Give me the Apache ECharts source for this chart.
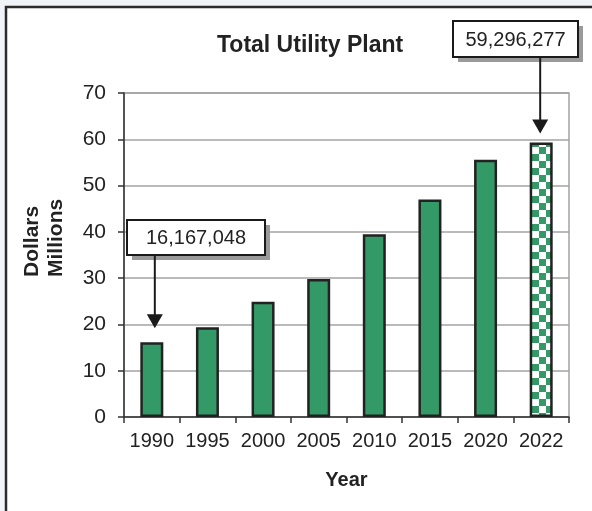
<!DOCTYPE html>
<html>
<head>
<meta charset="utf-8">
<script src="https://cdn.jsdelivr.net/npm/echarts@6/dist/echarts.min.js"></script>
<style>
    html, body { margin: 0; padding: 0; background: #f0f3f7; }
    #chart { width: 592px; height: 511px; }
</style>
</head>
<body>
<div id="chart"></div>
<script>
// values, millions of dollars
const years = ['1990', '1995', '2000', '2005', '2010', '2015', '2020', '2022']
const plantMillions = [16.17, 19.4, 24.9, 29.8, 39.5, 47.0, 55.6, 59.3]
const calloutIndex = [0, 7]
const calloutText = ['16,167,048', '59,296,277']

const FONT = '"Liberation Sans", Arial, sans-serif'
const GREEN = '#339966'

// green / white checkerboard used for the last bar
function checker(size) {
    const c = document.createElement('canvas')
    c.width = c.height = size * 2
    const ctx = c.getContext('2d')
    ctx.fillStyle = '#ffffff'
    ctx.fillRect(0, 0, size * 2, size * 2)
    ctx.fillStyle = GREEN
    ctx.fillRect(0, 0, size, size)
    ctx.fillRect(size, size, size, size)
    return c
}

const frame = {
    id: 'frame',
    type: 'rect',
    z: -100,
    silent: true,
    shape: { x: 6, y: 7, width: 660, height: 580 },
    style: { fill: '#ffffff', stroke: '#2b2b2b', lineWidth: 2.5 }
}

const chart = echarts.init(document.getElementById('chart'))

const option = {
    backgroundColor: '#f0f3f7',
    animation: false,
    textStyle: { fontFamily: FONT, color: '#222' },
    title: {
        text: 'Total Utility Plant',
        left: 212,
        top: 29,
        textStyle: { fontFamily: FONT, fontSize: 23, fontWeight: 'bold', color: '#222' }
    },
    grid: {
        left: 124,
        right: 23,
        top: 93,
        bottom: 94,
        show: true,
        borderColor: '#a3a3a3',
        borderWidth: 1.5
    },
    xAxis: {
        type: 'category',
        data: years,
        name: 'Year',
        nameLocation: 'middle',
        nameGap: 53,
        nameTextStyle: { fontFamily: FONT, fontSize: 20, fontWeight: 'bold', color: '#222' },
        axisLine: { lineStyle: { color: '#333', width: 1.5 } },
        axisTick: { show: true, length: 6, lineStyle: { color: '#333', width: 1.5 } },
        axisLabel: { interval: 0, fontFamily: FONT, fontSize: 20, color: '#222', margin: 14 }
    },
    yAxis: {
        type: 'value',
        min: 0,
        max: 70,
        interval: 10,
        name: 'Dollars\nMillions',
        nameLocation: 'middle',
        nameRotate: 90,
        nameGap: 56,
        nameTextStyle: {
            fontFamily: FONT, fontSize: 21, fontWeight: 'bold', color: '#222',
            lineHeight: 24, align: 'left', padding: [0, 0, 0, -22]
        },
        axisLine: { show: true, lineStyle: { color: '#333', width: 1.5 } },
        axisTick: { show: true, length: 6, lineStyle: { color: '#333', width: 1.5 } },
        axisLabel: { fontFamily: FONT, fontSize: 21, color: '#222', margin: 18 },
        splitLine: { lineStyle: { color: '#a3a3a3', width: 1.5 } }
    },
    series: [{
        type: 'bar',
        barWidth: 23,
        itemStyle: { color: GREEN, borderColor: '#222', borderWidth: 2.5 },
        data: plantMillions.map((v, i) => i === plantMillions.length - 1
            ? { value: v, itemStyle: { color: { image: checker(7), repeat: 'repeat' } } }
            : v)
    }],
    graphic: [frame]
}
chart.setOption(option)

// callout boxes with arrows pointing at the bar tops
const boxLayout = [
    { x: 127, y: 220, w: 138, h: 35, dx: 3, gap: 14 },
    { x: 453, y: 21, w: 125, h: 36, dx: -1, gap: 9 }
]
const callouts = []
calloutIndex.forEach((idx, k) => {
    const [bx, by] = chart.convertToPixel({ seriesIndex: 0 }, [idx, plantMillions[idx]])
    const b = boxLayout[k]
    const ax = bx + b.dx
    const tip = by - b.gap
    callouts.push(
        { type: 'rect', z: 50, shape: { x: b.x + 5, y: b.y + 5, width: b.w, height: b.h }, style: { fill: '#9a9a9a' } },
        { type: 'rect', z: 51, shape: { x: b.x, y: b.y, width: b.w, height: b.h }, style: { fill: '#fff', stroke: '#1a1a1a', lineWidth: 2 } },
        {
            type: 'text', z: 52,
            style: {
                text: calloutText[k], x: b.x + b.w / 2, y: b.y + b.h / 2 + 1,
                align: 'center', verticalAlign: 'middle',
                fontFamily: FONT, fontSize: 20, fill: '#222'
            }
        },
        { type: 'line', z: 50, shape: { x1: ax, y1: b.y + b.h, x2: ax, y2: tip - 12 }, style: { stroke: '#1a1a1a', lineWidth: 2 } },
        { type: 'polygon', z: 50, shape: { points: [[ax - 8, tip - 14], [ax + 8, tip - 14], [ax, tip]] }, style: { fill: '#1a1a1a' } }
    )
})
chart.setOption({ graphic: [frame].concat(callouts) })
</script>
</body>
</html>
